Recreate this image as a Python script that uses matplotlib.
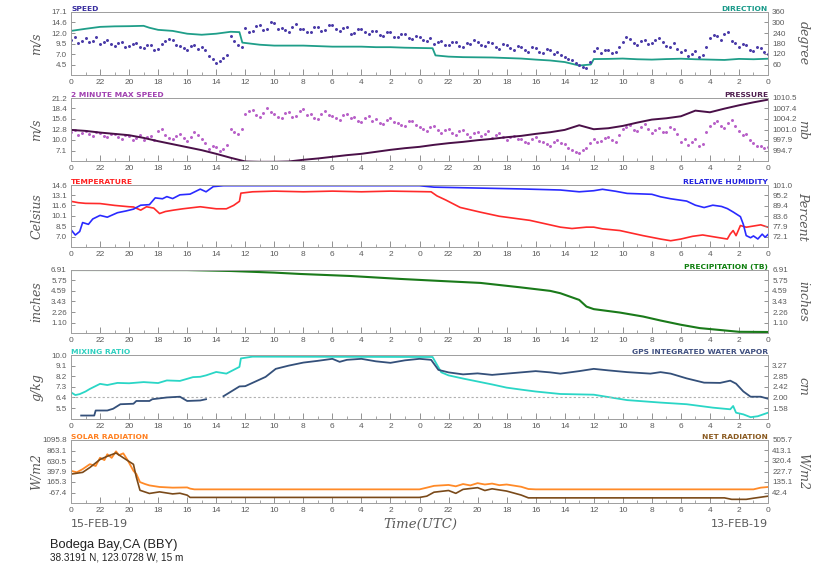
import numpy as np
import matplotlib
matplotlib.use("Agg")
import matplotlib.pyplot as plt

#########################################################################################################
#! Data  (x = hours before 00 UTC 15-FEB-19, 0 at the left edge, 48 at the right edge)

QUARTER_HOURS = np.arange(0, 48.25, 0.25)

# wind speed (m/s), every 15 min, one row = 3 hours
speed_ms = [
    10.4, 11.0, 9.6, 10.2, 10.8, 9.9, 10.2, 11.1, 9.4, 10.0, 10.3, 9.5,
    9.0, 9.7, 9.8, 8.6, 8.9, 9.5, 9.6, 8.8, 8.4, 9.3, 9.1, 8.0,
    8.2, 9.4, 10.1, 10.6, 10.4, 9.2, 9.0, 8.5, 8.1, 9.0, 9.3, 8.2,
    8.6, 7.9, 6.6, 5.8, 4.9, 5.4, 6.0, 6.8, 11.4, 10.2, 9.2, 8.8,
    13.2, 12.4, 12.6, 13.8, 14.0, 12.9, 13.1, 14.6, 14.4, 13.0, 13.3, 12.7,
    12.4, 13.5, 14.2, 13.1, 13.0, 12.3, 12.2, 13.4, 13.6, 12.5, 12.8, 14.0,
    14.1, 13.0, 12.5, 13.2, 13.4, 11.9, 12.0, 13.0, 13.1, 12.2, 11.8, 12.6,
    12.6, 11.7, 11.4, 12.4, 12.2, 11.2, 11.0, 11.9, 11.8, 10.9, 10.6, 11.4,
    11.2, 10.4, 10.1, 10.9, 9.4, 9.9, 10.2, 9.3, 9.1, 10.0, 9.8, 8.9,
    8.6, 9.6, 9.5, 10.3, 10.0, 9.1, 8.9, 9.8, 9.6, 8.7, 8.3, 9.4,
    9.2, 8.4, 8.0, 9.0, 8.8, 7.9, 7.6, 8.7, 8.5, 7.6, 7.2, 8.2,
    8.0, 7.1, 7.4, 6.8, 6.3, 5.9, 5.5, 4.9, 4.4, 3.9, 3.6, 5.2,
    7.8, 8.4, 7.3, 7.9, 8.1, 7.2, 7.6, 8.6, 9.9, 11.0, 10.6, 9.7,
    9.2, 10.1, 10.3, 9.4, 9.6, 10.5, 10.8, 9.9, 9.0, 8.7, 9.7, 8.2,
    7.4, 8.0, 6.6, 7.1, 7.8, 6.2, 6.9, 8.8, 10.8, 11.6, 11.4, 10.5,
    11.9, 12.3, 10.2, 9.6, 8.6, 9.4, 9.3, 8.1, 7.8, 8.8, 8.4, 7.4,
    7.0,
]

# 2 minute max speed (m/s), every 15 min
max_speed_ms = [
    12.0, 12.6, 11.2, 11.9, 12.4, 11.5, 11.0, 12.1, 11.8, 10.9, 10.6, 11.6,
    11.5, 10.8, 10.2, 11.3, 11.0, 9.9, 10.4, 11.2, 9.8, 10.6, 10.9, 10.0,
    12.4, 12.8, 11.2, 10.5, 10.1, 11.0, 11.6, 10.4, 9.6, 10.8, 12.0, 11.3,
    10.3, 9.0, 7.4, 8.3, 8.0, 7.0, 7.6, 8.6, 13.0, 12.2, 11.5, 12.8,
    16.8, 17.6, 17.9, 16.6, 16.2, 17.2, 18.6, 17.5, 17.0, 16.1, 15.8, 17.3,
    17.4, 16.2, 16.5, 17.8, 18.2, 16.7, 16.9, 15.9, 15.6, 16.8, 17.8, 16.6,
    16.4, 15.7, 15.2, 16.6, 17.0, 15.8, 16.1, 15.0, 14.8, 15.9, 16.3, 15.0,
    15.5, 14.6, 14.3, 15.4, 15.9, 14.7, 14.6, 13.9, 13.8, 14.9, 15.1, 14.0,
    13.5, 12.8, 12.4, 13.4, 13.6, 12.5, 11.8, 12.7, 12.9, 11.9, 11.2, 12.3,
    12.6, 11.6, 10.8, 11.9, 12.1, 11.0, 11.5, 12.3, 10.4, 11.2, 11.8, 10.6,
    9.9, 10.8, 11.0, 10.2, 10.1, 9.5, 9.2, 10.3, 10.6, 9.6, 9.5, 8.9,
    8.4, 9.5, 10.0, 9.1, 8.8, 7.9, 7.2, 6.6, 6.4, 7.3, 7.9, 9.0,
    10.2, 9.4, 9.6, 10.5, 10.8, 9.9, 9.4, 11.2, 12.8, 13.5, 13.9, 12.6,
    12.4, 13.4, 14.3, 13.0, 11.8, 12.5, 13.2, 12.1, 12.0, 13.4, 12.9, 11.4,
    9.3, 10.1, 8.6, 9.4, 10.2, 8.4, 8.9, 12.0, 13.6, 14.4, 14.9, 13.8,
    13.1, 14.5, 15.2, 13.7, 12.4, 11.2, 11.6, 10.0, 9.0, 8.2, 8.4, 7.8,
    8.0,
]

# wind direction (degree)
dir_hours = [0, 0.5, 1, 2, 3, 4, 5, 5.4, 6, 7, 8, 9, 10, 11, 11.6, 11.8, 13, 14, 16, 17, 18, 20,
             21, 22, 23, 24.9, 25.1, 26, 27, 29, 30, 31, 32, 33, 34, 35, 35.8, 36, 37, 38, 39,
             40, 41, 42, 43, 44, 45, 46, 47, 48]
dir_deg = [252, 258, 264, 275, 278, 279, 281, 270, 258, 252, 236, 230, 236, 247, 245, 185, 173, 168, 168, 165, 162, 162,
           159, 159, 156, 153, 112, 105, 102, 100, 97, 94, 88, 83, 74, 54, 60, 91, 92, 94, 90,
           88, 91, 93, 90, 88, 86, 92, 90, 93]

# pressure (mb), hourly
pressure_mb = [
    1000.9, 1000.6, 1000.1, 999.7, 999.3, 998.5, 997.5, 996.6, 995.7, 994.8,
    993.7, 992.5, 991.4, 991.3, 991.3, 991.4, 991.9, 992.3, 992.8, 993.3,
    993.7, 994.3, 994.9, 995.4, 995.8, 996.4, 996.9, 997.3, 997.8, 998.2,
    998.7, 999.1, 999.7, 1000.2, 1000.9, 1002.3, 1001.1, 1001.4, 1002.1, 1003.1,
    1004.0, 1004.4, 1005.0, 1006.7, 1006.2, 1007.3, 1008.3, 1009.2, 1010.0,
]

# temperature (Celsius)
temp_hours = [0, 0.5, 1, 2, 3, 4, 4.3, 4.8, 5.2, 5.7, 6.1, 6.5, 7.05, 7.7, 8.9, 10, 10.7, 11.2, 11.6,
              11.7, 12.5, 14, 16, 18, 20, 22, 24.8, 25.2, 25.8, 26.8, 28.2, 29.5, 31.6, 33.7, 34.5,
              35.5, 36, 36.6, 37.8, 39.4, 40.6, 41.3, 42, 42.8, 43.5, 44.2, 45.2, 45.4, 45.6, 45.8,
              46.1, 46.5, 47.5, 48]
temp_c = [12.2, 12.0, 11.9, 11.87, 11.6, 11.4, 11.37, 10.9, 11.4, 11.2, 10.4, 10.7, 10.9, 11.1, 11.4, 11.1, 11.1, 11.6, 12.2,
          13.4, 13.6, 13.7, 13.6, 13.7, 13.6, 13.7, 13.6, 13.0, 12.4, 11.3, 10.6, 10.0, 9.4, 8.4, 8.2,
          8.4, 8.4, 8.15, 7.9, 7.15, 6.65, 6.4, 6.65, 7.05, 7.25, 7.0, 6.65, 7.4, 7.9, 7.15,
          8.64, 8.39, 8.74, 8.39]

# relative humidity (Percent)
rh_hours = [0, 0.3, 0.6, 0.8, 1.2, 1.5, 2, 2.5, 3.2, 3.8, 4.3, 4.8, 5.4, 5.8, 6.3, 6.6, 7, 7.5, 8.2,
            8.9, 9.3, 9.8, 10.5, 24, 25, 28, 31, 33.7, 35, 36, 36.6, 37.5, 38.3, 40, 40.6, 41.3,
            42.4, 43, 43.6, 44.2, 44.8, 45.2, 45.6, 46.1, 46.3, 46.5, 46.8, 47, 47.3, 47.6, 47.8, 48]
rh_pct = [76, 73, 75, 80, 79, 82, 84, 83, 85.5, 86.5, 87.5, 89.7, 90, 93.8, 93.3, 94.5, 93.4, 95.5, 95.9,
          98.7, 97.2, 100.1, 100.6, 100.6, 99.8, 99.3, 98.8, 98.2, 97.2, 97.8, 98.6, 97.5, 96.3, 95.8, 94.4, 93.3,
          92.0, 89.7, 88.4, 89.7, 89.0, 87.8, 85.9, 83.3, 79, 72.7, 71.5, 72.5, 70.8, 73.5, 71.8, 73.3]

# accumulated precipitation, tipping bucket (inches)
precip_hours = [0, 8, 11, 14, 15.8, 19.2, 22.7, 25.4, 28.2, 30.9, 33, 33.7, 35, 35.5, 36, 37.8,
                39.4, 40.6, 42, 43.3, 44.5, 46, 48]
precip_in = [6.91, 6.9, 6.8, 6.62, 6.47, 6.25, 5.92, 5.7, 5.48, 5.0, 4.6, 4.34, 3.6, 2.86, 2.58, 2.2,
             1.76, 1.32, 0.85, 0.48, 0.3, 0.07, 0.05]

# mixing ratio (g/kg)
mr_hours = [0, 0.3, 0.6, 1, 1.3, 2, 2.5, 3.2, 4, 5, 6, 6.6, 7.5, 8.4, 8.9, 9.3, 10, 10.7, 11.6,
            11.7, 12.5, 24.9, 25.5, 26, 27, 28, 29, 30, 31, 32, 33.7, 36, 38.3, 40.6, 42.4, 44.2,
            45.4, 45.6, 45.8, 46.3, 46.8, 47.3, 48]
mr_gkg = [6.83, 6.6, 6.68, 6.9, 7.12, 7.55, 7.45, 7.63, 7.6, 7.7, 7.62, 7.84, 7.8, 8.12, 8.15, 8.27, 8.56, 8.42, 8.99,
          9.71, 9.86, 9.83, 8.53, 8.27, 8.0, 7.75, 7.5, 7.23, 7.06, 6.9, 6.69, 6.63, 6.17, 5.96, 5.82, 5.53,
          5.39, 5.67, 5.1, 4.96, 4.72, 4.8, 5.1]

# GPS integrated water vapor (cm), nan = no data
iwv_hours = [0.7, 1.6, 1.7, 2.5, 2.9, 3.4, 4.3, 4.5, 5.4, 5.6, 6.6, 7.5, 8, 8.9, 9.3, 9.9, 10.5,
             10.7, 11.6, 12, 13.4, 14.1, 15, 16, 17, 18, 18.5, 19, 20, 21, 22, 23, 24, 24.8,
             25.3, 26, 27, 28, 29, 30, 31, 32, 33, 33.7, 35, 36, 37, 38.3, 39.9, 40.6, 41.3,
             42.4, 43.6, 44.7, 45.4, 45.8, 46.3, 46.8, 47.5, 48]
iwv_cm = [1.28, 1.28, 1.48, 1.48, 1.55, 1.73, 1.75, 1.86, 1.86, 1.93, 2.0, 2.03, 1.86, 1.88, 1.93, np.nan, 2.05,
          2.12, 2.44, 2.45, 2.82, 3.14, 3.27, 3.39, 3.46, 3.54, 3.42, 3.5, 3.54, 3.44, 3.38, 3.48, 3.54, 3.5,
          3.1, 3.0, 2.92, 2.96, 2.9, 2.95, 3.0, 3.05, 3.0, 2.95, 3.05, 3.14, 3.08, 3.01, 2.95, 3.01, 2.95,
          2.76, 2.59, 2.58, 2.67, 2.55, 2.24, 2.03, 2.03, 1.95]

# solar radiation (W/m2)
solar_hours = [0, 0.4, 0.8, 1.3, 1.7, 2, 2.3, 2.5, 2.8, 3.1, 3.3, 3.6, 3.9, 4.3, 4.5, 4.75, 5.1, 5.4,
               6.1, 7, 8, 8.2, 8.5, 24, 24.5, 25, 26, 26.5, 27, 27.5, 28, 28.5, 29, 29.5, 30, 31,
               31.5, 32, 47, 47.5, 48]
solar_wm2 = [413, 380, 450, 560, 520, 702, 650, 780, 700, 844, 760, 800, 650, 413, 342, 163, 120, 90,
             55, 40, 45, 19, 2, 2, 40, 80, 100, 70, 120, 90, 140, 110, 130, 95, 110, 60,
             10, 2, 2, 40, 55]

# net radiation (W/m2)
net_hours = [0, 0.8, 1.3, 2, 2.5, 3.1, 3.6, 4.3, 4.5, 4.75, 5.4, 6.1, 7, 7.5, 8, 8.2, 24, 24.5, 25,
             26, 26.5, 27, 28, 28.5, 29, 30, 31, 31.5, 45, 45.5, 46.5, 47, 48]
net_wm2 = [205, 220, 263, 334, 362, 391, 349, 291, 177, 62, 34, 48, 30, 36, 19, -1, -1, 10, 45,
           60, 35, 70, 85, 60, 75, 55, 20, -5, -5, -18, -18, -8, 10]

# axis ticks (left, right) for each panel
speed_ticks = [4.5, 7.0, 9.5, 12.0, 14.6, 17.1]
dir_ticks = [60, 120, 180, 240, 300, 360]
gust_ticks = [7.1, 10.0, 12.8, 15.6, 18.4, 21.2]
pres_ticks = [994.7, 997.9, 1001.0, 1004.2, 1007.4, 1010.5]
temp_ticks = [7.0, 8.5, 10.1, 11.6, 13.1, 14.6]
rh_ticks = [72.1, 77.9, 83.6, 89.4, 95.2, 101.0]
precip_ticks = [1.10, 2.26, 3.43, 4.59, 5.75, 6.91]
mr_ticks = [5.5, 6.4, 7.3, 8.2, 9.1, 10.0]
iwv_ticks = [1.58, 2.00, 2.42, 2.85, 3.27]
solar_ticks = [-67.4, 165.3, 397.9, 630.5, 863.1, 1095.8]
net_ticks = [42.4, 135.1, 227.7, 320.4, 413.1, 505.7]

#########################################################################################################
#! Layout

FIG_W, FIG_H = 833, 563
LEFT_PX, RIGHT_PX = 71, 768
TICK_COLOR = "#808080"
LABEL_COLOR = "#5a5a5a"
SPINE_COLOR = "#a0a0a0"
TICK_FONT = "Liberation Sans"

# (top, bottom) of each panel, pixels from the top of the figure
PANELS = [(12, 75), (98, 161), (185, 247), (270, 333), (355, 418.6), (440, 503)]

fig = plt.figure(figsize=(FIG_W / 100, FIG_H / 100), dpi=100)
fig.patch.set_facecolor("white")

hour_ticks = list(range(0, 49, 2))
hour_labels = [str((24 - h % 24) % 24) for h in hour_ticks]


def span(ticks, n_below=1, n_above=0):
    # axis range: one tick step below the lowest label (and optionally above the top one)
    step = (ticks[-1] - ticks[0]) / (len(ticks) - 1)
    return ticks[0] - n_below * step, ticks[-1] + n_above * step


def fmt(ticks, digits):
    return [f"{t:.{digits}f}" for t in ticks]


def set_y(ax, ticks, lim, labels):
    ax.set_ylim(*lim)
    ax.set_yticks(ticks)
    ax.set_yticklabels(labels, family=TICK_FONT)
    ax.tick_params(axis="y", direction="in", length=3, width=0.6, colors=TICK_COLOR,
                   labelsize=5.8, labelcolor=LABEL_COLOR, pad=3)


def make_panel(top_px, bottom_px):
    ax = fig.add_axes([LEFT_PX / FIG_W, 1 - bottom_px / FIG_H,
                       (RIGHT_PX - LEFT_PX) / FIG_W, (bottom_px - top_px) / FIG_H])
    ax.set_xlim(0, 48)
    ax.set_xticks(hour_ticks)
    ax.set_xticklabels(hour_labels, family=TICK_FONT)
    ax.set_xticks(range(0, 49), minor=True)
    ax.tick_params(axis="x", which="major", direction="in", length=4, width=0.6,
                   colors=TICK_COLOR, labelsize=6, labelcolor=LABEL_COLOR, pad=3)
    ax.tick_params(axis="x", which="minor", direction="in", length=2, width=0.5, colors=TICK_COLOR)
    axr = ax.twinx()
    axr.set_xlim(0, 48)
    for a in (ax, axr):
        for s in a.spines.values():
            s.set_color(SPINE_COLOR)
            s.set_linewidth(0.7)
    return ax, axr


def titles(ax, left, left_color, right, right_color):
    if left:
        ax.text(0.0, 1.0, left, transform=ax.transAxes, ha="left", va="bottom",
                fontsize=5.4, fontweight="bold", color=left_color)
    if right:
        ax.text(1.0, 1.0, right, transform=ax.transAxes, ha="right", va="bottom",
                fontsize=5.4, fontweight="bold", color=right_color)


def side_labels(top_px, bottom_px, left, right):
    yc = 1 - (top_px + bottom_px) / 2 / FIG_H
    fig.text(37 / FIG_W, yc, left, rotation=90, ha="center", va="center", fontsize=9,
             family="DejaVu Serif", style="italic", color=LABEL_COLOR)
    fig.text(803 / FIG_W, yc, right, rotation=270, ha="center", va="center", fontsize=9,
             family="DejaVu Serif", style="italic", color=LABEL_COLOR)


# --- speed / direction
ax, axr = make_panel(*PANELS[0])
set_y(ax, speed_ticks, span(speed_ticks), fmt(speed_ticks, 1))
set_y(axr, dir_ticks, (0, 360), [str(t) for t in dir_ticks])
axr.plot(dir_hours, dir_deg, color="#1f9e89", lw=1.3)
ax.set_zorder(axr.get_zorder() + 1)
ax.patch.set_visible(False)
ax.plot(QUARTER_HOURS, speed_ms, ls="none", marker=".", ms=2.3, color="#4a3aa8")
titles(ax, "SPEED", "#3a2fa0", "DIRECTION", "#1a9a8a")
side_labels(*PANELS[0], "m/s", "degree")

# --- max speed / pressure
ax, axr = make_panel(*PANELS[1])
set_y(ax, gust_ticks, span(gust_ticks), fmt(gust_ticks, 1))
set_y(axr, pres_ticks, span(pres_ticks), fmt(pres_ticks, 1))
ax.plot(QUARTER_HOURS, max_speed_ms, ls="none", marker=".", ms=2.3, color="#b860c8")
axr.plot(np.arange(49), pressure_mb, color="#4a1048", lw=1.4)
titles(ax, "2 MINUTE MAX SPEED", "#a040b0", "PRESSURE", "#502050")
side_labels(*PANELS[1], "m/s", "mb")

# --- temperature / relative humidity
ax, axr = make_panel(*PANELS[2])
set_y(ax, temp_ticks, span(temp_ticks), fmt(temp_ticks, 1))
set_y(axr, rh_ticks, span(rh_ticks), fmt(rh_ticks, 1))
ax.plot(temp_hours, temp_c, color="#ff2a2a", lw=1.2)
axr.plot(rh_hours, rh_pct, color="#2a2aff", lw=1.2)
titles(ax, "TEMPERATURE", "#ff2020", "RELATIVE HUMIDITY", "#2020e0")
side_labels(*PANELS[2], "Celsius", "Percent")

# --- precipitation
ax, axr = make_panel(*PANELS[3])
set_y(ax, precip_ticks, span(precip_ticks), fmt(precip_ticks, 2))
set_y(axr, precip_ticks, span(precip_ticks), fmt(precip_ticks, 2))
ax.plot(precip_hours, precip_in, color="#1a7a1a", lw=1.5)
titles(ax, None, None, "PRECIPITATION (TB)", "#108010")
side_labels(*PANELS[3], "inches", "inches")

# --- mixing ratio / GPS water vapor
ax, axr = make_panel(*PANELS[4])
set_y(ax, mr_ticks, span(mr_ticks), fmt(mr_ticks, 1))
set_y(axr, iwv_ticks, span(iwv_ticks, 1, 1), fmt(iwv_ticks, 2))
axr.axhline(2.0, color="#b0b0b0", lw=0.8, ls=(0, (2, 2)))
ax.plot(mr_hours, mr_gkg, color="#2ad6c6", lw=1.3)
axr.plot(iwv_hours, iwv_cm, color="#34507a", lw=1.3)
titles(ax, "MIXING RATIO", "#30d0c0", "GPS INTEGRATED WATER VAPOR", "#405080")
side_labels(*PANELS[4], "g/kg", "cm")

# --- solar / net radiation
ax, axr = make_panel(*PANELS[5])
set_y(ax, solar_ticks, span(solar_ticks), fmt(solar_ticks, 1))
set_y(axr, net_ticks, span(net_ticks), fmt(net_ticks, 1))
ax.plot(solar_hours, solar_wm2, color="#ff8a28", lw=1.3)
axr.plot(net_hours, net_wm2, color="#7a4a1a", lw=1.2)
titles(ax, "SOLAR RADIATION", "#ff8020", "NET RADIATION", "#8a5a20")
side_labels(*PANELS[5], "W/m2", "W/m2")

# --- footer
fig.text(LEFT_PX / FIG_W, 1 - 524 / FIG_H, "15-FEB-19", ha="left", va="center",
         fontsize=8, color=LABEL_COLOR)
fig.text(RIGHT_PX / FIG_W, 1 - 524 / FIG_H, "13-FEB-19", ha="right", va="center",
         fontsize=8, color=LABEL_COLOR)
fig.text(420 / FIG_W, 1 - 524 / FIG_H, "Time(UTC)", ha="center", va="center",
         fontsize=9.5, family="DejaVu Serif", style="italic", color=LABEL_COLOR)
fig.text(50 / FIG_W, 1 - 545 / FIG_H, "Bodega Bay,CA (BBY)", ha="left", va="center",
         fontsize=9.3, family="Liberation Sans", color="#222222")
fig.text(50 / FIG_W, 1 - 558 / FIG_H, "38.3191 N, 123.0728 W, 15 m", ha="left", va="center",
         fontsize=7.2, family="Liberation Sans", color="#222222")

fig.savefig("out.png", dpi=100)
